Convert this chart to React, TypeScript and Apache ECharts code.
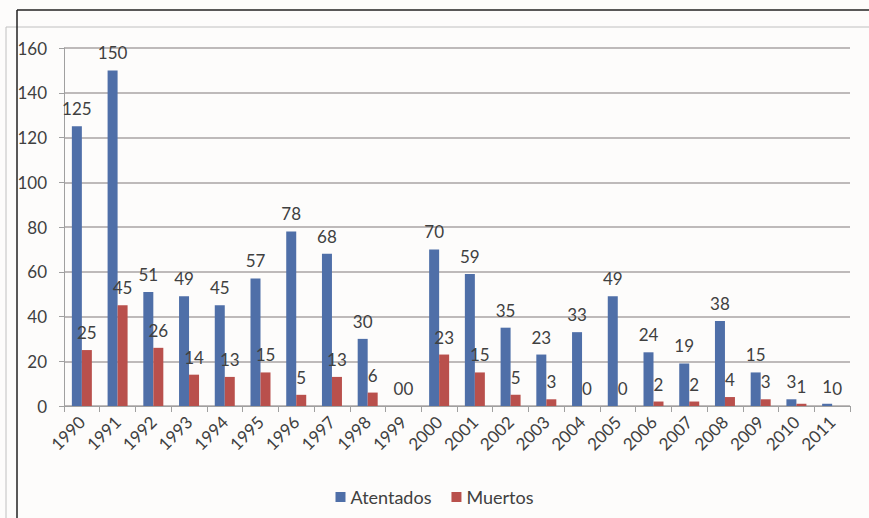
import React, { useEffect, useRef } from "react";
import * as echarts from "echarts";

const years = ["1990","1991","1992","1993","1994","1995","1996","1997","1998","1999","2000","2001","2002","2003","2004","2005","2006","2007","2008","2009","2010","2011"];
const atentados = [125,150,51,49,45,57,78,68,30,0,70,59,35,23,33,49,24,19,38,15,3,1];
const muertos = [25,45,26,14,13,15,5,13,6,0,23,15,5,3,0,0,2,2,4,3,1,0];
const yTicks = [0,20,40,60,80,100,120,140,160];

export default function App() {
  const ref = useRef<HTMLDivElement>(null);
  useEffect(() => {
    if (!ref.current) return;
    const chart = echarts.init(ref.current, null, { renderer: "svg" });
    const font = "Lato, 'Open Sans', sans-serif";
    chart.setOption({
      animation: false,
      backgroundColor: "#fdfcfb",
      textStyle: { fontFamily: font },
      grid: { left: 64, right: 19, top: 48, bottom: 112, containLabel: false },
      legend: {
        top: 483,
        left: "center",
        itemWidth: 10,
        itemHeight: 10,
        itemGap: 20,
        icon: "rect",
        textStyle: { fontSize: 18, color: "#404040", fontFamily: font },
        data: ["Atentados", "Muertos"],
      },
      xAxis: {
        type: "category",
        data: years,
        axisLine: { lineStyle: { color: "#a0a0a0", width: 1 } },
        axisTick: { show: true, alignWithLabel: false, length: 6, lineStyle: { color: "#a0a0a0" } },
        axisLabel: { rotate: 45, fontSize: 17, color: "#404040", margin: 13, interval: 0, fontFamily: font },
      },
      yAxis: {
        type: "value",
        min: yTicks[0],
        max: yTicks[yTicks.length - 1],
        interval: 20,
        axisLine: { show: true, lineStyle: { color: "#a0a0a0" } },
        axisTick: { show: true, length: 5, lineStyle: { color: "#a0a0a0" } },
        axisLabel: { fontSize: 17, color: "#404040", margin: 17, fontFamily: font },
        splitLine: { lineStyle: { color: "#a8a4a4", width: 1.5 } },
      },
      series: [
        {
          name: "Atentados",
          type: "bar",
          data: atentados,
          barWidth: 10,
          barGap: "0%",
          itemStyle: { color: "#4f6fa8" },
          label: { show: true, position: "top", fontSize: 17, color: "#404040", distance: 9, fontFamily: font },
        },
        {
          name: "Muertos",
          type: "bar",
          data: muertos,
          barWidth: 10,
          itemStyle: { color: "#b9504c" },
          label: { show: true, position: "top", fontSize: 17, color: "#404040", distance: 9, fontFamily: font },
        },
      ],
      graphic: [
        { type: "line", shape: { x1: 6, y1: 27, x2: 869, y2: 27 }, style: { stroke: "#c0c0c0", lineWidth: 1 } },
        { type: "line", shape: { x1: 6, y1: 27, x2: 6, y2: 518 }, style: { stroke: "#c0c0c0", lineWidth: 1 } },
        { type: "line", shape: { x1: 17, y1: 10, x2: 869, y2: 10 }, style: { stroke: "#222", lineWidth: 1.5 } },
        { type: "line", shape: { x1: 17, y1: 10, x2: 17, y2: 518 }, style: { stroke: "#222", lineWidth: 1.5 } },
      ],
    });
    return () => chart.dispose();
  }, []);
  return (
    <div
      ref={ref}
      style={{ position: "fixed", left: 0, top: 0, width: 869, height: 518, background: "#fff" }}
    />
  );
}
